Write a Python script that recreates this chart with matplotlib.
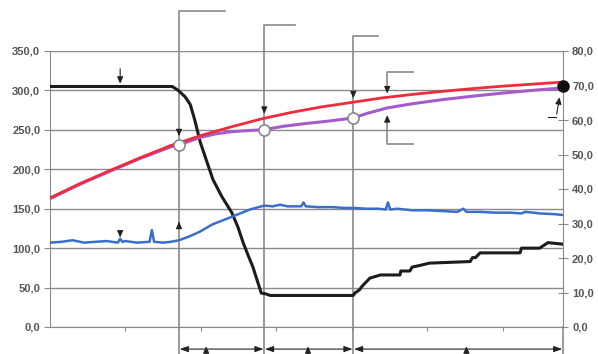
import matplotlib
matplotlib.use("Agg")
import matplotlib.pyplot as plt
from matplotlib.ticker import FuncFormatter

# time axis 0..68, event markers
events = [17.1, 28.4, 40.2]

# black curve (left axis)
black_x = [0, 16.2, 17.0, 17.9, 18.6, 19.2, 19.9, 20.6, 21.6, 22.8, 24.1, 24.9, 25.6,
           26.3, 26.9, 27.6, 28.0, 28.6, 29.2,
           40.2, 40.4, 41.0, 41.4, 42.0, 42.4, 43.8, 46.4, 46.5, 47.7, 48.0, 49.0,
           50.3, 55.7, 56.0, 56.4, 57.0, 62.3, 62.5, 64.9, 66.0, 68.0]
black_y = [305, 305, 300, 292, 282, 262, 235, 215, 187, 165, 145, 127, 107,
           90, 76, 55, 43, 42, 40,
           40, 43, 47, 52, 58, 62, 66, 66, 71, 71, 76, 78,
           81, 83, 88, 88, 94, 94, 100, 100, 107, 105]

# blue curve (left axis)
blue_x = [0, 1.5, 3, 4.5, 6, 7.5, 9, 9.3, 9.6, 10, 11.5, 13.2, 13.5, 13.8, 15, 16, 17.1,
          18.5, 19.9, 21.5, 23.9, 26.5, 28.4, 29.5, 30.5, 31.5, 33.3, 33.6, 33.9, 35.5,
          37.5, 39, 40.2, 42, 43.5, 44.5, 44.8, 45.1, 46, 48, 50, 52, 54, 54.8, 55.2,
          57, 59, 61, 62.5, 63, 65, 67, 68]
blue_y = [107, 108, 110, 107, 108, 109, 107, 112, 108, 109, 107, 108, 123, 108, 107, 108, 110,
          115, 121, 130, 139, 149, 154, 153, 155, 153, 153, 158, 153, 152,
          152, 151, 151, 150, 150, 149, 158, 149, 150, 148, 148, 147, 146, 150, 146,
          146, 145, 145, 144, 146, 144, 143, 142]

# red and purple curves (right axis)
red_x = [0, 4, 8, 12, 16, 20, 24, 28, 32, 36, 40, 44, 48, 52, 56, 60, 64, 68]
red_y = [37.4, 41.6, 45.4, 49.1, 52.6, 55.5, 58.0, 60.3, 62.2, 63.8, 65.1, 66.4,
         67.4, 68.3, 69.1, 69.8, 70.4, 71.0]
purple_x = [0, 4, 8, 12, 16, 17.1, 20, 22, 24, 26, 28.4, 31, 34, 37, 40.2, 42, 44.7,
            48, 52, 56, 60, 64, 68]
purple_y = [37.2, 41.4, 45.2, 48.9, 52.2, 52.8, 55.0, 56.0, 56.6, 56.9, 57.2, 58.2,
            59.0, 59.7, 60.6, 61.9, 63.5, 64.7, 65.9, 66.9, 67.8, 68.6, 69.3]

circle_x = [17.1, 28.4, 40.2]
circle_y = [52.8, 57.2, 60.6]
end_x, end_y = 68, 70.0

left_ticks = [0, 50, 100, 150, 200, 250, 300, 350]
right_ticks = [0, 10, 20, 30, 40, 50, 60, 70, 80]

GRAY = "#8a8a8a"
TXT = "#555555"
plt.rcParams["font.family"] = ["Liberation Sans", "DejaVu Sans"]

fig = plt.figure(figsize=(5.98, 3.54), dpi=100)
ax = fig.add_axes([50 / 598, 27 / 354, 513 / 598, 276 / 354])
ax2 = ax.twinx()

comma = FuncFormatter(lambda v, p: f"{v:.1f}".replace(".", ","))

ax.set_xlim(0, 68)
ax.set_ylim(0, 350)
ax.set_yticks(left_ticks)
ax.yaxis.set_major_formatter(comma)
ax.grid(axis="y", color=GRAY, lw=1)
ax.set_xticks([10, 20, 30, 40, 50, 60])
ax.set_xticklabels([])
ax.tick_params(axis="x", length=3, color=GRAY, direction="out")
ax.tick_params(axis="y", length=4, color=GRAY, labelsize=8, labelcolor=TXT, pad=3)
for lab in ax.get_yticklabels():
    lab.set_fontweight("bold")
for s in ["top", "right"]:
    ax.spines[s].set_visible(False)
for s in ["left", "bottom"]:
    ax.spines[s].set_color(GRAY)

ax2.set_ylim(0, 80)
ax2.set_yticks(right_ticks)
ax2.yaxis.set_major_formatter(comma)
ax2.tick_params(axis="y", length=7, direction="inout", color=GRAY, labelsize=8,
                labelcolor=TXT, pad=3)
for lab in ax2.get_yticklabels():
    lab.set_fontweight("bold")
for s in ["top", "left", "bottom"]:
    ax2.spines[s].set_visible(False)
ax2.spines["right"].set_color(GRAY)

# event lines reaching above and below the plot
tops = [1.145, 1.094, 1.054]
widths = [6.1, 4.1, 3.3]
tr = ax.get_xaxis_transform()
for ex, top, w in zip(events, tops, widths):
    ax.plot([ex, ex, ex + w], [-0.1, top, top], transform=tr, color=GRAY, lw=1.2,
            clip_on=False, zorder=1)
ax.plot([68, 68], [-0.1, 0], transform=tr, color=GRAY, lw=1.2, clip_on=False)

# curves
ax.plot(black_x, black_y, color="#1c1c1c", lw=2.2, zorder=3)
ax.plot(blue_x, blue_y, color="#3a6fc9", lw=1.8, zorder=3)
ax2.plot(purple_x, purple_y, color="#a45ccc", lw=2.2, zorder=3)
ax2.plot(red_x, red_y, color="#ee2c3c", lw=2.0, zorder=4)
ax2.plot(circle_x, circle_y, "o", ms=8, mfc="white", mec="#888888", mew=1.2, zorder=5)
ax2.plot([end_x], [end_y], "o", ms=8, color="#111111", zorder=5, clip_on=False)

ap = dict(arrowstyle="-|>,head_length=0.4,head_width=0.18", color="#222222", lw=0.8)
# small pointers
ax.annotate("", xy=(9.3, 305), xytext=(9.3, 331), arrowprops=ap)
ax.annotate("", xy=(9.3, 110), xytext=(9.3, 123), arrowprops=ap)
ax.annotate("", xy=(17.1, 137), xytext=(17.1, 128), arrowprops=ap)
for ex, yv in zip(events, [54.5, 61.0, 65.5]):
    ax2.annotate("", xy=(ex, yv), xytext=(ex, yv + 3), arrowprops=ap)

# bracket at the right pointing to red and purple
bx = 44.7
ax2.plot([bx + 3.4, bx, bx], [73.9, 73.9, 69.5], color=GRAY, lw=1.2)
ax2.annotate("", xy=(bx, 66.9), xytext=(bx, 69.6), arrowprops=ap)
ax2.plot([bx + 3.4, bx, bx], [53.0, 53.0, 59.0], color=GRAY, lw=1.2)
ax2.annotate("", xy=(bx, 62.2), xytext=(bx, 58.9), arrowprops=ap)

# pointer to filled circle
ax2.plot([66.0, 67.1], [60.9, 60.9], color="#222222", lw=0.8)
ax2.annotate("", xy=(67.6, 67.4), xytext=(67.1, 60.9), arrowprops=ap)

# bottom interval arrows
dap = dict(arrowstyle="<|-|>,head_length=0.5,head_width=0.18", color="#222222",
           lw=0.8, shrinkA=0, shrinkB=0)
bounds = events + [68]
for a, b in zip(bounds[:-1], bounds[1:]):
    ax.annotate("", xy=(b - 0.1, -0.08), xytext=(a + 0.1, -0.08), xycoords=tr,
                textcoords=tr, arrowprops=dap)
for ux in [20.7, 34.2, 55.2]:
    ax.annotate("", xy=(ux, -0.07), xytext=(ux, -0.11), xycoords=tr, textcoords=tr,
                arrowprops=dict(ap, shrinkA=0, shrinkB=0))

fig.savefig("out.png", dpi=100)
